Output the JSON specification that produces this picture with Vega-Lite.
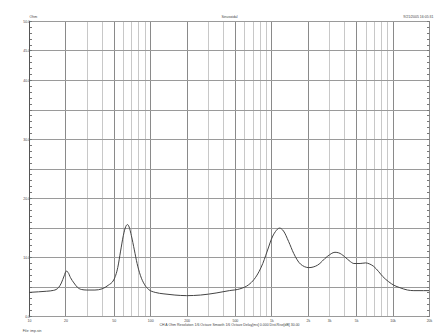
{
  "$schema": "https://vega.github.io/schema/vega-lite/v6.json",
  "width": 400,
  "height": 295,
  "autosize": "none",
  "padding": {"left": 29, "top": 21, "right": 8, "bottom": 18},
  "background": "white",
  "config": {
    "font": "Liberation Sans",
    "view": {"stroke": "#555", "strokeWidth": 1},
    "axis": {"labelFont": "Liberation Sans", "titleFont": "Liberation Sans", "labelColor": "#444", "titleColor": "#444", "titleFontWeight": "normal"}
  },
  "title": {"text": "File: imp.sin", "orient": "bottom", "anchor": "start", "fontSize": 3.5, "fontWeight": "normal", "color": "#444", "offset": 3, "font": "Liberation Sans"},
  "data": {"values": [
    {"f": 10, "z": 4.0}, {"f": 12, "z": 4.1}, {"f": 14, "z": 4.2}, {"f": 16, "z": 4.35},
    {"f": 17.5, "z": 4.8}, {"f": 18.5, "z": 5.6}, {"f": 19.5, "z": 6.8}, {"f": 20.3, "z": 7.6},
    {"f": 21, "z": 7.4}, {"f": 22, "z": 6.5}, {"f": 23.5, "z": 5.6}, {"f": 25, "z": 4.9},
    {"f": 27, "z": 4.5}, {"f": 30, "z": 4.4}, {"f": 35, "z": 4.4}, {"f": 40, "z": 4.6},
    {"f": 45, "z": 5.2}, {"f": 50, "z": 6.1}, {"f": 54, "z": 8.2}, {"f": 57, "z": 11.0},
    {"f": 60, "z": 13.6}, {"f": 63, "z": 15.2}, {"f": 65, "z": 15.5}, {"f": 67, "z": 15.1},
    {"f": 70, "z": 13.6}, {"f": 74, "z": 11.2}, {"f": 78, "z": 8.9}, {"f": 83, "z": 6.9},
    {"f": 90, "z": 5.3}, {"f": 97, "z": 4.5}, {"f": 110, "z": 4.0}, {"f": 130, "z": 3.75},
    {"f": 160, "z": 3.55}, {"f": 200, "z": 3.45}, {"f": 260, "z": 3.55}, {"f": 350, "z": 3.9},
    {"f": 450, "z": 4.3}, {"f": 550, "z": 4.6}, {"f": 650, "z": 5.3}, {"f": 720, "z": 6.2},
    {"f": 790, "z": 7.5}, {"f": 850, "z": 8.9}, {"f": 900, "z": 10.3}, {"f": 950, "z": 11.7},
    {"f": 1000, "z": 13.0}, {"f": 1080, "z": 14.3}, {"f": 1170, "z": 14.9}, {"f": 1260, "z": 14.4},
    {"f": 1390, "z": 12.6}, {"f": 1530, "z": 10.6}, {"f": 1740, "z": 8.8}, {"f": 2040, "z": 8.2},
    {"f": 2400, "z": 8.6}, {"f": 2900, "z": 10.1}, {"f": 3350, "z": 10.8}, {"f": 3600, "z": 10.7},
    {"f": 4000, "z": 10.1}, {"f": 4500, "z": 9.2}, {"f": 4800, "z": 8.9}, {"f": 5400, "z": 8.9},
    {"f": 6000, "z": 9.0}, {"f": 6500, "z": 8.8}, {"f": 7000, "z": 8.4}, {"f": 7700, "z": 7.5},
    {"f": 8300, "z": 6.7}, {"f": 9300, "z": 5.8}, {"f": 10300, "z": 5.2}, {"f": 11500, "z": 4.8},
    {"f": 13300, "z": 4.4}, {"f": 15000, "z": 4.3}, {"f": 18000, "z": 4.3}, {"f": 20000, "z": 4.3}
  ]},
  "layer": [
    {
      "mark": {"type": "line", "color": "#444", "strokeWidth": 1, "interpolate": "monotone"},
      "encoding": {
        "x": {
          "field": "f", "type": "quantitative",
          "scale": {"type": "log", "domain": [10, 20000], "nice": false},
          "axis": {
            "orient": "bottom",
            "values": [10,20,30,40,50,60,70,80,90,100,200,300,400,500,600,700,800,900,1000,2000,3000,4000,5000,6000,7000,8000,9000,10000,20000],
            "labelExpr": "indexof([10,20,50,100,200,500,1000,2000,3000,5000,10000,20000], datum.value) >= 0 ? (datum.value >= 1000 ? (datum.value/1000) + 'k' : datum.value + '') : ''",
            "grid": true,
            "gridColor": {"condition": {"test": "indexof([10,20,50,100,200,500,1000,2000,5000,10000,20000], datum.value) >= 0", "value": "#8a8a8a"}, "value": "#c8c8c8"},
            "gridWidth": 1,
            "ticks": false,
            "domain": false,
            "labelFontSize": 3.5,
            "labelPadding": 2,
            "labelFlush": false,
            "labelOverlap": false,
            "title": "CH A   Ohm   Resolution 1/6 Octave   Smooth 1/6 Octave   Delay[ms] 0.000   Dist.Rise[dB] 30.00",
            "titleFontSize": 3.5,
            "titlePadding": 1
          }
        },
        "y": {
          "field": "z", "type": "quantitative",
          "scale": {"domain": [0, 50], "nice": false},
          "axis": {
            "orient": "left",
            "values": [0,1,2,3,4,5,6,7,8,9,10,11,12,13,14,15,16,17,18,19,20,21,22,23,24,25,26,27,28,29,30,31,32,33,34,35,36,37,38,39,40,41,42,43,44,45,46,47,48,49,50],
            "labelExpr": "(datum.value % 10 == 0 || datum.value == 45) ? format(datum.value, '.1f') : ''",
            "grid": true,
            "gridColor": "#9a9a9a",
            "gridOpacity": {"condition": {"test": "datum.value % 5 != 0", "value": 0}, "value": 1},
            "tickSize": -2.5,
            "tickColor": "#777",
            "domain": true,
            "domainColor": "#555",
            "labelFontSize": 3.5,
            "labelPadding": 2,
            "labelFlush": false,
            "labelOverlap": false,
            "title": "Ohm",
            "titleAngle": 0,
            "titleX": 0,
            "titleY": -4,
            "titleAlign": "left",
            "titleBaseline": "alphabetic",
            "titleFontSize": 3.5
          }
        }
      }
    },
    {
      "mark": {"type": "line", "strokeWidth": 0, "opacity": 0},
      "encoding": {
        "x": {
          "field": "f", "type": "quantitative",
          "scale": {"type": "log", "domain": [10, 20000], "nice": false},
          "axis": {
            "orient": "top", "labels": false, "ticks": false, "domain": false, "grid": false,
            "title": "Sinusoidal", "titleFontSize": 3.5, "titleX": 200, "titleY": -4, "titleBaseline": "alphabetic", "titleAlign": "center"
          }
        },
        "y": {
          "field": "z", "type": "quantitative",
          "scale": {"domain": [0, 50], "nice": false},
          "axis": {
            "orient": "right",
            "values": [0,1,2,3,4,5,6,7,8,9,10,11,12,13,14,15,16,17,18,19,20,21,22,23,24,25,26,27,28,29,30,31,32,33,34,35,36,37,38,39,40,41,42,43,44,45,46,47,48,49,50],
            "labels": false, "grid": false, "domain": false,
            "tickSize": -2.5, "tickColor": "#777",
            "title": "9/21/2005 16:05:31", "titleFontSize": 3.5, "titleAngle": 0, "titleX": 4, "titleY": -4, "titleAlign": "right", "titleBaseline": "alphabetic"
          }
        }
      }
    }
  ],
  "resolve": {"axis": {"x": "independent", "y": "independent"}}
}
